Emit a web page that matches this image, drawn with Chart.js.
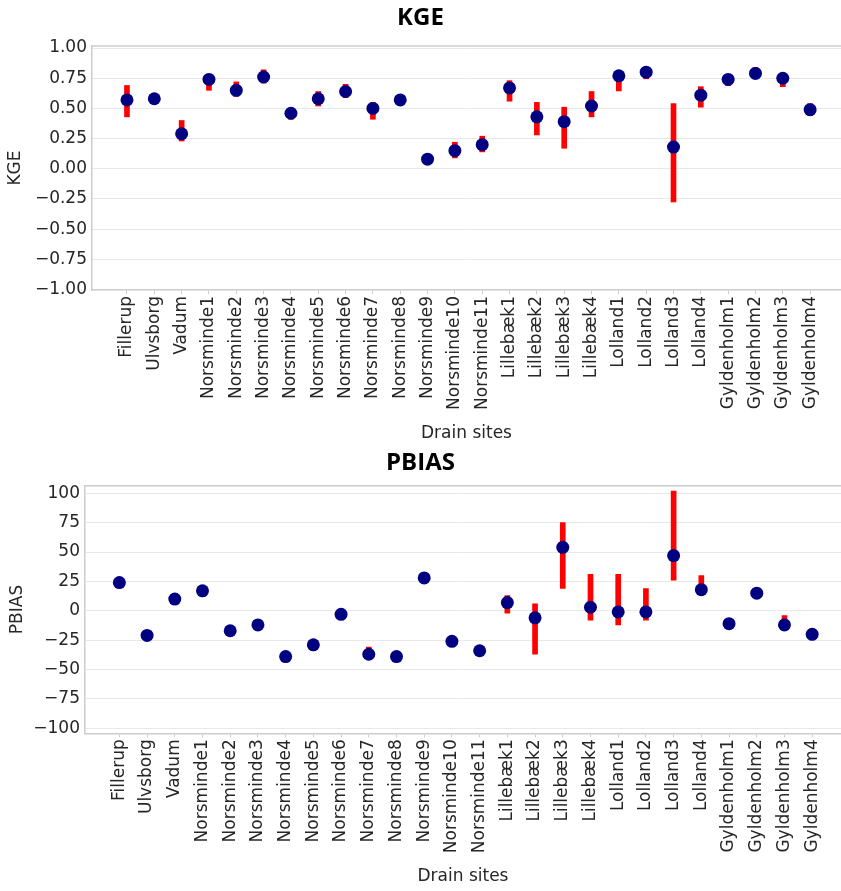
<!DOCTYPE html>
<html>
<head>
<meta charset="utf-8">
<script src="https://cdn.jsdelivr.net/npm/chart.js@4.4.1/dist/chart.umd.min.js"></script>
<style>
  body { margin: 0; background: #fff; }
  canvas { display: block; }
</style>
</head>
<body>
<canvas id="kgeChart" width="841" height="445"></canvas>
<canvas id="pbiasChart" width="841" height="446"></canvas>
<script>
const sites = ['Fillerup', 'Ulvsborg', 'Vadum',
  'Norsminde1', 'Norsminde2', 'Norsminde3', 'Norsminde4', 'Norsminde5', 'Norsminde6',
  'Norsminde7', 'Norsminde8', 'Norsminde9', 'Norsminde10', 'Norsminde11',
  'Lillebæk1', 'Lillebæk2', 'Lillebæk3', 'Lillebæk4',
  'Lolland1', 'Lolland2', 'Lolland3', 'Lolland4',
  'Gyldenholm1', 'Gyldenholm2', 'Gyldenholm3', 'Gyldenholm4'];

// KGE: point value and the red range (null = no visible range)
const kge     = [0.57, 0.58, 0.29, 0.74, 0.65, 0.76, 0.46, 0.58, 0.64, 0.50, 0.57, 0.08, 0.15, 0.20,
                 0.67, 0.43, 0.39, 0.52, 0.77, 0.80, 0.18, 0.61, 0.74, 0.79, 0.75, 0.49];
const kgeLow  = [0.43, null, 0.23, 0.65, 0.60, 0.71, 0.41, 0.52, 0.59, 0.41, null, null, 0.09, 0.14,
                 0.56, 0.28, 0.17, 0.43, 0.645, 0.745, -0.275, 0.51, 0.69, 0.76, 0.68, 0.44];
const kgeHigh = [0.69, null, 0.40, 0.78, 0.72, 0.82, 0.50, 0.64, 0.70, 0.55, null, null, 0.22, 0.27,
                 0.73, 0.55, 0.51, 0.64, 0.78, 0.81, 0.54, 0.68, 0.75, 0.84, 0.79, 0.54];
const kgeTicks = [-1, -0.75, -0.5, -0.25, 0, 0.25, 0.5, 0.75, 1];

// PBIAS
const pbias     = [24, -21, 10, 17, -17, -12, -39, -29, -3, -37, -39, 28, -26, -34,
                   7, -6, 54, 3, -1, -1, 47, 18, -11, 15, -12, -20];
const pbiasLow  = [null, null, null, null, null, null, null, null, null, -37, null, null, null, null,
                   -2, -37, 19, -8, -12, -8, 26, 15, null, null, -12, null];
const pbiasHigh = [null, null, null, null, null, null, null, null, null, -31, null, null, null, null,
                   13, 6, 75, 31, 31, 19, 102, 30, null, null, -4, null];
const pbiasTicks = [-100, -75, -50, -25, 0, 25, 50, 75, 100];

const textColor = '#262626';
const tickFont = { family: 'DejaVu Sans', size: 17 };

// thin line along the top of the plot area
const topFrame = {
  id: 'topFrame',
  afterDraw(chart) {
    const a = chart.chartArea, ctx = chart.ctx;
    ctx.save();
    ctx.strokeStyle = '#cccccc';
    ctx.lineWidth = 1.5;
    ctx.beginPath();
    ctx.moveTo(a.left, a.top);
    ctx.lineTo(a.right, a.top);
    ctx.stroke();
    ctx.restore();
  }
};

function makeChart(id, cfg) {
  const ranges = sites.map((s, i) => ({
    x: i,
    y: cfg.low[i] === null ? null : [cfg.low[i], cfg.high[i]]
  }));
  const points = sites.map((s, i) => ({ x: i, y: cfg.values[i] }));

  return new Chart(document.getElementById(id), {
    type: 'bar',
    data: {
      datasets: [{
        type: 'scatter',
        data: points,
        pointRadius: 6.5,
        pointBackgroundColor: '#000080',
        pointBorderColor: '#000080',
        pointBorderWidth: 0,
        clip: false,
        order: 0
      }, {
        data: ranges,
        backgroundColor: '#ff0000',
        barThickness: 5,
        order: 1
      }]
    },
    options: {
      responsive: false,
      animation: false,
      layout: { padding: 0, autoPadding: false },
      plugins: {
        legend: { display: false },
        tooltip: { enabled: false },
        title: {
          display: true,
          text: cfg.title,
          color: '#000',
          font: { family: 'Open Sans', size: 24, weight: 'bold' },
          padding: cfg.titlePad
        }
      },
      scales: {
        x: {
          type: 'linear',
          min: cfg.xMin,
          max: cfg.xMax,
          offset: false,
          afterBuildTicks: (axis) => { axis.ticks = sites.map((s, i) => ({ value: i })); },
          afterFit: (axis) => {
            axis.height = cfg.xHeight;
            axis.paddingLeft = 0;
            axis.paddingRight = 0;
          },
          ticks: {
            autoSkip: false,
            minRotation: 90,
            maxRotation: 90,
            padding: 2,
            color: textColor,
            font: tickFont,
            callback: (v) => sites[v]
          },
          grid: { drawOnChartArea: false, offset: false, tickLength: 4, color: '#cccccc' },
          border: { color: '#cccccc', width: 1.5 },
          title: {
            display: true,
            text: 'Drain sites',
            color: textColor,
            font: tickFont,
            padding: { top: 0, bottom: cfg.xTitlePad }
          }
        },
        y: {
          min: cfg.yMin,
          max: cfg.yMax,
          afterBuildTicks: (axis) => { axis.ticks = cfg.ticks.map(v => ({ value: v })); },
          afterFit: (axis) => { axis.width = cfg.yWidth; },
          ticks: {
            padding: 5,
            color: textColor,
            font: tickFont,
            callback: cfg.fmt
          },
          grid: { color: '#e8e8e8', drawTicks: false },
          border: { color: '#cccccc', width: 1.5 },
          title: {
            display: true,
            text: cfg.title,
            color: textColor,
            font: tickFont,
            padding: { top: cfg.yTitlePad, bottom: 0 }
          }
        }
      }
    },
    plugins: [topFrame]
  });
}

makeChart('kgeChart', {
  title: 'KGE', values: kge, low: kgeLow, high: kgeHigh, ticks: kgeTicks,
  yMin: -1.004, yMax: 1.017, xMin: -1.28, xMax: 26.13,
  yWidth: 92, xHeight: 155, titlePad: { top: 3.6, bottom: 13.6 },
  xTitlePad: 1, yTitlePad: 5,
  fmt: (v) => v.toFixed(2).replace('-', '\u2212')
});

makeChart('pbiasChart', {
  title: 'PBIAS', values: pbias, low: pbiasLow, high: pbiasHigh, ticks: pbiasTicks,
  yMin: -104.3, yMax: 106.5, xMin: -1.24, xMax: 26.04,
  yWidth: 85, xHeight: 157.7, titlePad: { top: 3.6, bottom: 8.3 },
  xTitlePad: 4, yTitlePad: 7,
  fmt: (v) => String(v).replace('-', '\u2212')
});
</script>
</body>
</html>
